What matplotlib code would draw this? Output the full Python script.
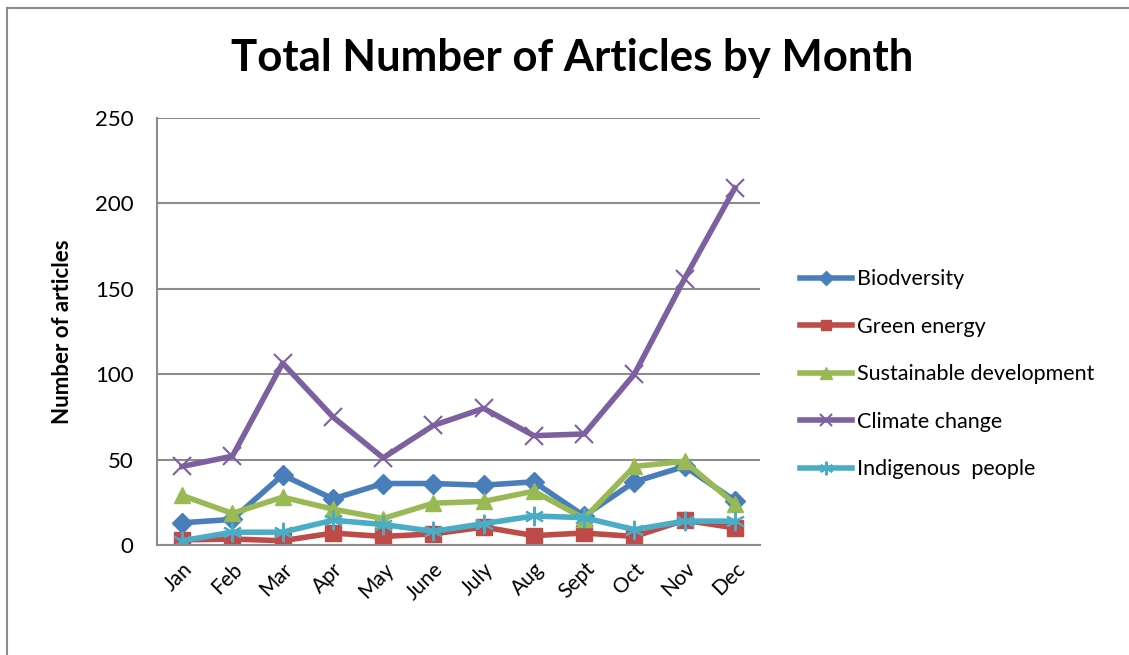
import matplotlib
matplotlib.use("Agg")
import matplotlib.pyplot as plt
from matplotlib.lines import Line2D

months = ["Jan", "Feb", "Mar", "Apr", "May", "June", "July", "Aug", "Sept", "Oct", "Nov", "Dec"]
biodiversity = [13, 15, 41, 27, 36, 36, 35, 37, 17, 37, 46, 26]
green_energy = [3, 3.5, 2.5, 7, 5, 6.5, 10.5, 5.5, 7, 5, 14.5, 10]
sustainable = [29, 18.5, 28, 21, 15.5, 24.5, 25.5, 31.5, 15.5, 46, 49, 24]
climate = [46, 52, 106.5, 75, 51, 70, 80, 64, 65, 100, 156, 209]
indigenous = [2.5, 7.5, 7.5, 14.5, 12, 8, 12.5, 17, 16, 9, 14, 14]

series = [
    ("Biodversity", biodiversity, "#4A7EBB", "D", 10),
    ("Green energy", green_energy, "#BE4B48", "s", 11),
    ("Sustainable development", sustainable, "#98B954", "^", 12),
    ("Climate change", climate, "#7D60A0", "x", 13),
    ("Indigenous  people", indigenous, "#4BACC6", (6, 2, 0), 14),
]

plt.rcParams["font.family"] = ["Lato", "DejaVu Sans"]

fig = plt.figure(figsize=(11.29, 6.55), dpi=100)
ax = fig.add_axes([157/1129, 1-545/655, (760-157)/1129, (545-118)/655])

x = list(range(len(months)))
for name, vals, col, mk, ms in series:
    kw = dict(color=col, linewidth=4, marker=mk, markersize=ms, label=name,
              markerfacecolor=col, markeredgecolor=col)
    if mk == "x" or isinstance(mk, tuple):
        kw["markeredgewidth"] = 1.5
    ax.plot(x, vals, **kw)

ax.set_xlim(-0.5, len(months) - 0.5)
ax.set_ylim(0, 250)
ax.set_yticks([0, 50, 100, 150, 200, 250])
ax.set_xticks(x)
ax.set_xticklabels(months, rotation=45, ha="right", va="top", rotation_mode="anchor", fontsize=15)
ax.tick_params(axis="y", labelsize=16, length=0, pad=17)
ax.tick_params(axis="x", length=0, pad=10)
ax.grid(axis="y", color="#8c8c8c", linewidth=1.5)
ax.set_axisbelow(True)
for s in ("top", "right"):
    ax.spines[s].set_visible(False)
for s in ("left", "bottom"):
    ax.spines[s].set_color("#8c8c8c")
    ax.spines[s].set_linewidth(1.5)

ax.set_ylabel("Number of articles", fontsize=16, fontweight="bold", labelpad=16)

fig.text(572/1129, 1-58/655, "Total Number of Articles by Month", ha="center", va="center",
         fontsize=31.5, fontweight="bold")

leg = ax.legend(loc="center left", bbox_to_anchor=(1.034, 0.40), frameon=False, fontsize=15.5,
                handlelength=2.4, labelspacing=1.28, handletextpad=0.25, markerscale=0.7)

# outer frame (left and top edges)
fig.add_artist(Line2D([7/1129, 7/1129], [0, 1-8/655], transform=fig.transFigure,
                      color="#8c8c8c", linewidth=1.5))
fig.add_artist(Line2D([7/1129, 1], [1-8/655, 1-8/655], transform=fig.transFigure,
                      color="#8c8c8c", linewidth=1.5))

fig.savefig("out.png", dpi=100)
